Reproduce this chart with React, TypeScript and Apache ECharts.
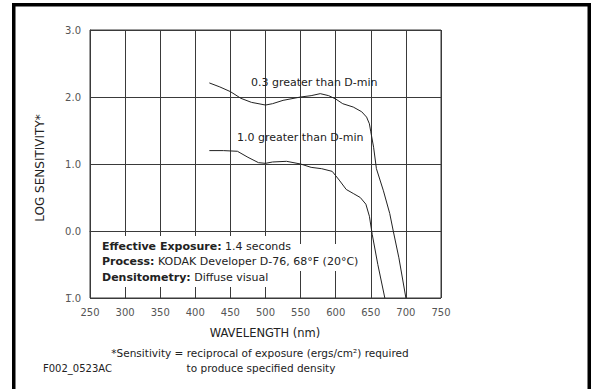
import React, { useEffect, useRef } from "react";
import * as echarts from "echarts";

// Wavelength axis (nm) and log sensitivity axis
const xTicks = [250, 300, 350, 400, 450, 500, 550, 600, 650, 700, 750];
const yTicks = [-1, 0, 1, 2, 3];

// Curve: density 0.3 greater than D-min
const upperWavelength = [420, 435, 450, 465, 480, 500, 510, 525, 550, 565, 578, 590, 600, 610, 625, 637, 644, 648, 650, 654, 658, 668, 677, 682, 690, 700];
const upperLogSens = [2.21, 2.15, 2.08, 1.98, 1.92, 1.88, 1.9, 1.95, 2.0, 2.02, 2.05, 2.02, 1.97, 1.9, 1.85, 1.78, 1.7, 1.6, 1.48, 1.25, 0.93, 0.6, 0.26, 0.0, -0.4, -1.0];

// Curve: density 1.0 greater than D-min
const lowerWavelength = [420, 440, 460, 475, 490, 500, 510, 530, 550, 565, 580, 595, 605, 615, 625, 635, 643, 648, 652, 660, 670];
const lowerLogSens = [1.2, 1.2, 1.19, 1.1, 1.02, 1.01, 1.03, 1.04, 1.0, 0.95, 0.93, 0.89, 0.76, 0.62, 0.56, 0.5, 0.4, 0.22, -0.05, -0.5, -1.0];

const curveLabels = ["0.3 greater than D-min", "1.0 greater than D-min"];
const notes = [
  ["Effective Exposure:", " 1.4 seconds"],
  ["Process:", " KODAK Developer D-76, 68°F (20°C)"],
  ["Densitometry:", " Diffuse visual"],
];
const footnote = ["*Sensitivity = reciprocal of exposure (ergs/cm²) required", "to produce specified density"];
const figureId = "F002_0523AC";
const xTitle = "WAVELENGTH (nm)";
const yTitle = "LOG SENSITIVITY*";

const FONT = "'DejaVu Sans', sans-serif";

export default function App() {
  const ref = useRef<HTMLDivElement>(null);

  useEffect(() => {
    if (!ref.current) return;
    const chart = echarts.init(ref.current, null, { renderer: "svg" });
    const grid = "#3a3a3a";
    const txt = (text: string, x: number, y: number, size: number, align = "left", extra: any = {}) => ({
      type: "text",
      x,
      y,
      z: 20,
      ...extra,
      style: {
        text,
        fontFamily: FONT,
        fontSize: size,
        fill: "#222",
        align,
        textAlign: align,
        verticalAlign: "middle",
        textVerticalAlign: "middle",
        ...(extra.style || {}),
      },
    });
    const bar = (x: number, y: number, w: number, h: number) => ({
      type: "rect",
      z: 30,
      shape: { x, y, width: w, height: h },
      style: { fill: "#000" },
    });
    const noteYs = [246, 261, 277];
    chart.setOption({
      animation: false,
      backgroundColor: "#fff",
      grid: {
        left: 90,
        top: 30,
        right: 151,
        bottom: 91,
        show: true,
        borderColor: grid,
        borderWidth: 1,
      },
      xAxis: {
        type: "value",
        min: xTicks[0],
        max: xTicks[xTicks.length - 1],
        interval: 50,
        axisLine: { show: true, lineStyle: { color: grid, width: 1 } },
        axisTick: { show: false },
        splitLine: { show: true, lineStyle: { color: grid, width: 1 } },
        axisLabel: { margin: 9, fontFamily: FONT, fontSize: 10, color: "#555" },
      },
      yAxis: {
        type: "value",
        min: yTicks[0],
        max: yTicks[yTicks.length - 1],
        interval: 1,
        axisLine: { show: true, lineStyle: { color: grid, width: 1 } },
        axisTick: { show: false },
        splitLine: { show: true, lineStyle: { color: grid, width: 1 } },
        axisLabel: {
          margin: 9,
          fontFamily: FONT,
          fontSize: 10,
          color: "#555",
          formatter: (v: number) => (v < 0 ? `${Math.abs(v)}\u0305.0` : v.toFixed(1)),
        },
      },
      series: [
        {
          type: "line",
          name: curveLabels[0],
          data: upperWavelength.map((w, i) => [w, upperLogSens[i]]),
          showSymbol: false,
          lineStyle: { color: "#222", width: 1 },
          z: 5,
        },
        {
          type: "line",
          name: curveLabels[1],
          data: lowerWavelength.map((w, i) => [w, lowerLogSens[i]]),
          showSymbol: false,
          lineStyle: { color: "#222", width: 1 },
          z: 5,
        },
      ],
      graphic: [
        bar(12, 3, 579, 3.5),
        bar(12, 3, 3.5, 386),
        bar(587.5, 3, 3.5, 386),
        { type: "rect", z: 15, shape: { x: 91, y: 236, width: 202, height: 51 }, style: { fill: "#fff" } },
        { type: "rect", z: 15, shape: { x: 293, y: 244, width: 70, height: 27 }, style: { fill: "#fff" } },
        txt(curveLabels[0], 251, 82, 11),
        txt(curveLabels[1], 237, 137, 11),
        ...notes.map((n, i) =>
          txt(`{b|${n[0]}}{r|${n[1]}}`, 102, noteYs[i], 11, "left", {
            style: {
              rich: {
                b: { fontFamily: FONT, fontSize: 11, fontWeight: "bold", fill: "#222" },
                r: { fontFamily: FONT, fontSize: 11, fill: "#222" },
              },
            },
          })
        ),
        txt(xTitle, 265, 333, 11.5, "center"),
        txt(yTitle, 40, 168, 12, "center", { rotation: Math.PI / 2 }),
        txt(footnote[0], 260, 353, 10.5, "center"),
        txt(footnote[1], 261, 368, 10.5, "center"),
        txt(figureId, 43, 368, 10, "left"),
      ],
    });
    return () => chart.dispose();
  }, []);

  return (
    <div
      ref={ref}
      style={{ position: "fixed", left: 0, top: 0, width: 592, height: 389, background: "#fff" }}
    />
  );
}
